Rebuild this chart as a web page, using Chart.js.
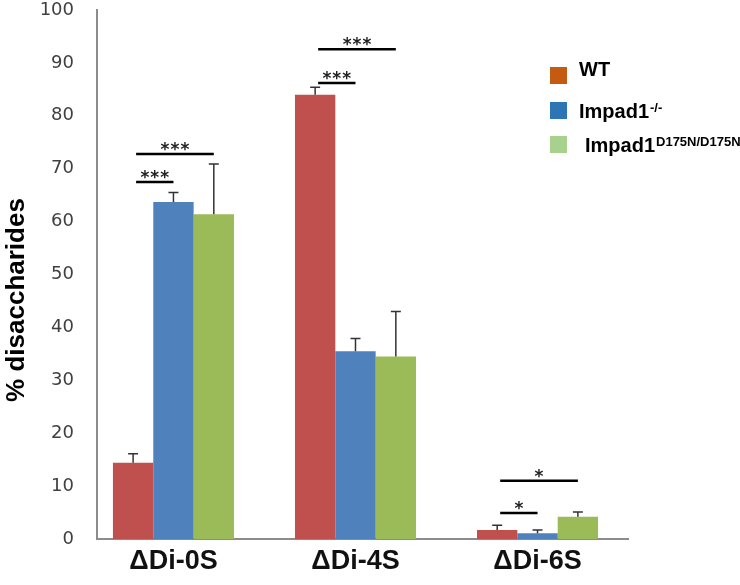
<!DOCTYPE html>
<html>
<head>
<meta charset="utf-8">
<script src="https://cdn.jsdelivr.net/npm/chart.js@4.4.1/dist/chart.umd.min.js"></script>
<style>
  html, body { margin: 0; padding: 0; background: #ffffff; }
  canvas { display: block; }
</style>
</head>
<body>
<canvas id="c" width="740" height="585"></canvas>
<script>
// ---- data ----
const categories = ['ΔDi-0S', 'ΔDi-4S', 'ΔDi-6S'];
const seriesNames = ['WT', 'Impad1', 'Impad1'];
const seriesSup = ['', '-/-', 'D175N/D175N'];
const wtValues = [14.4, 84.0, 1.7];
const koValues = [63.7, 35.5, 1.1];
const d175nValues = [61.4, 34.5, 4.2];
const wtErrors = [1.7, 1.4, 0.9];
const koErrors = [1.8, 2.4, 0.6];
const d175nErrors = [9.5, 8.5, 0.9];
const yTicks = [0, 10, 20, 30, 40, 50, 60, 70, 80, 90, 100];
const yTitle = '% disaccharides';
// significance brackets
const sigCategory = [0, 0, 1, 1, 2, 2];
const sigFrom = [0, 0, 0, 0, 0, 0];
const sigTo = [1, 2, 1, 2, 1, 2];
const sigLevel = [67.5, 72.8, 86.2, 92.6, 4.9, 11.0];
const sigLabel = ['***', '***', '***', '***', '*', '*'];

const barColors = ['#C0504D', '#4F81BD', '#9BBB59'];
const legendColors = ['#C55A11', '#2E75B6', '#A9D18E'];

const seriesValues = [wtValues, koValues, d175nValues];
const seriesErrors = [wtErrors, koErrors, d175nErrors];

const datasets = seriesValues.map((vals, s) => ({
  label: seriesNames[s] + seriesSup[s],
  data: vals.map((v, i) => ({ x: i, y: v })),
  backgroundColor: barColors[s],
  borderWidth: 0,
  errors: seriesErrors[s]
}));

const errorBarPlugin = {
  id: 'errorBars',
  afterDatasetsDraw(chart) {
    const ctx = chart.ctx;
    const yScale = chart.scales.y;
    ctx.save();
    ctx.strokeStyle = '#333333';
    ctx.lineWidth = 1.5;
    chart.data.datasets.forEach((ds, di) => {
      const meta = chart.getDatasetMeta(di);
      meta.data.forEach((bar, i) => {
        const top = yScale.getPixelForValue(ds.data[i].y + ds.errors[i]);
        ctx.beginPath();
        ctx.moveTo(bar.x, bar.y);
        ctx.lineTo(bar.x, top);
        ctx.moveTo(bar.x - 5, top);
        ctx.lineTo(bar.x + 5, top);
        ctx.stroke();
      });
    });
    ctx.restore();
  }
};

const sigPlugin = {
  id: 'sig',
  afterDatasetsDraw(chart) {
    const ctx = chart.ctx;
    const yScale = chart.scales.y;
    ctx.save();
    sigCategory.forEach((c, k) => {
      const a = chart.getDatasetMeta(sigFrom[k]).data[c];
      const b = chart.getDatasetMeta(sigTo[k]).data[c];
      const y = yScale.getPixelForValue(sigLevel[k]);
      const x1 = a.x + 3, x2 = b.x;
      ctx.strokeStyle = '#000000';
      ctx.lineWidth = 2.5;
      ctx.beginPath();
      ctx.moveTo(x1, y);
      ctx.lineTo(x2, y);
      ctx.stroke();
      ctx.fillStyle = '#222222';
      ctx.font = 'bold 17px "DejaVu Sans"';
      ctx.letterSpacing = '1px';
      ctx.textAlign = 'center';
      ctx.textBaseline = 'alphabetic';
      ctx.fillText(sigLabel[k], (x1 + x2) / 2 + 0.5, y + 1);
    });
    ctx.restore();
  }
};

const legendPlugin = {
  id: 'customLegend',
  afterDraw(chart) {
    const ctx = chart.ctx;
    const sqY = [67, 102, 136];
    const txtX = [579, 579, 585];
    const baseY = [76, 118, 152];
    ctx.save();
    seriesNames.forEach((name, i) => {
      ctx.fillStyle = legendColors[i];
      ctx.fillRect(550, sqY[i], 17, 17);
      ctx.fillStyle = '#000000';
      ctx.textAlign = 'left';
      ctx.textBaseline = 'alphabetic';
      ctx.font = 'bold 20px "Liberation Sans"';
      ctx.fillText(name, txtX[i], baseY[i]);
      if (seriesSup[i]) {
        const w = ctx.measureText(name).width;
        ctx.font = 'bold 13px "Liberation Sans"';
        ctx.fillText(seriesSup[i], txtX[i] + w + 1, baseY[i] - 6);
      }
    });
    ctx.restore();
  }
};

const yTitlePlugin = {
  id: 'yTitle',
  afterDraw(chart) {
    const ctx = chart.ctx;
    ctx.save();
    ctx.translate(17, 300);
    ctx.rotate(-Math.PI / 2);
    ctx.fillStyle = '#000000';
    ctx.font = 'bold 26px "Liberation Sans"';
    ctx.textAlign = 'center';
    ctx.textBaseline = 'middle';
    ctx.fillText(yTitle, 0, 0);
    ctx.restore();
  }
};

new Chart(document.getElementById('c'), {
  type: 'bar',
  data: { datasets },
  options: {
    responsive: false,
    animation: false,
    events: [],
    layout: { padding: { top: 10, right: 112, left: 0, bottom: 0 } },
    categoryPercentage: 0.665,
    barPercentage: 1.0,
    plugins: { legend: { display: false }, tooltip: { enabled: false } },
    scales: {
      x: {
        type: 'linear',
        min: -0.42,
        max: 2.497,
        offset: false,
        afterBuildTicks: s => { s.ticks = categories.map((c, i) => ({ value: i })); },
        afterFit: s => { s.height = 46; s.paddingLeft = 0; s.paddingRight = 0; },
        grid: { display: false, drawTicks: false },
        border: { display: true, color: '#8c8c8c', width: 2 },
        ticks: {
          padding: 6,
          color: '#111111',
          font: { family: 'Liberation Sans', weight: 'bold', size: 27 },
          callback: v => categories[v],
          maxRotation: 0,
          autoSkip: false
        }
      },
      y: {
        min: 0,
        max: 100,
        afterBuildTicks: s => { s.ticks = yTicks.map(v => ({ value: v })); },
        afterFit: s => { s.width = 97; s.paddingTop = 10; s.paddingBottom = 0; },
        grid: { display: false, drawTicks: false },
        border: { display: true, color: '#8c8c8c', width: 2 },
        ticks: {
          padding: 23,
          color: '#404040',
          font: { family: 'DejaVu Sans', size: 18 }
        }
      }
    }
  },
  plugins: [errorBarPlugin, sigPlugin, legendPlugin, yTitlePlugin]
});
</script>
</body>
</html>
